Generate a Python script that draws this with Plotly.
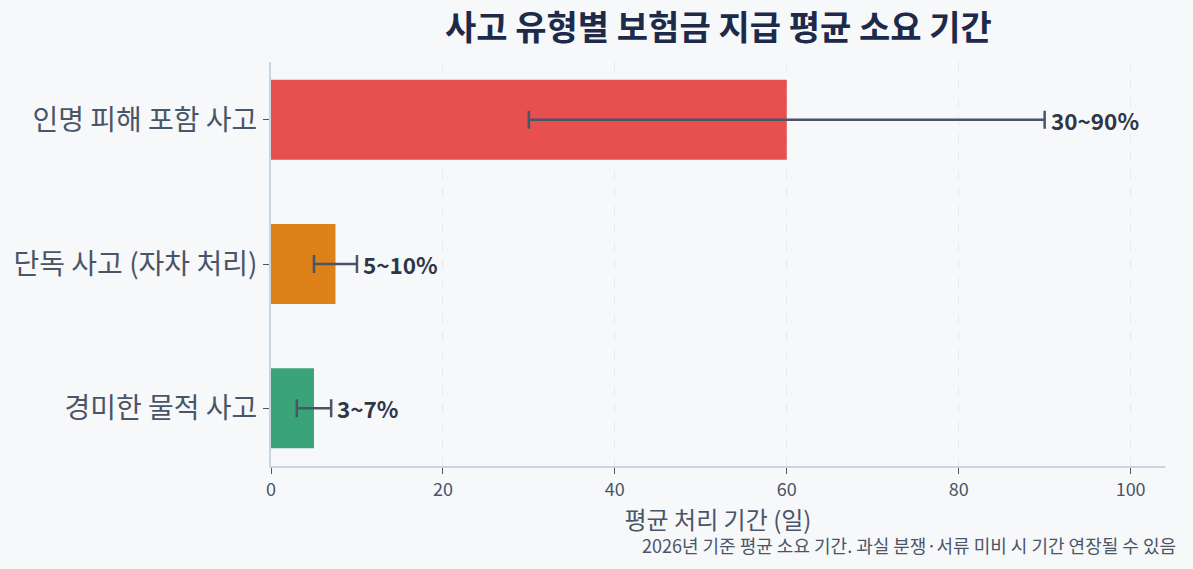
import plotly.graph_objects as go

categories = ["인명 피해 포함 사고", "단독 사고 (자차 처리)", "경미한 물적 사고"]
avg_days = [60, 7.5, 5]
low_days = [30, 5, 3]
high_days = [90, 10, 7]
range_labels = ["30~90%", "5~10%", "3~7%"]
colors = ["#e84f4f", "#dd8118", "#3aa478"]

err_plus = [h - a for h, a in zip(high_days, avg_days)]
err_minus = [a - l for a, l in zip(avg_days, low_days)]

FONT = "Noto Sans CJK KR"

fig = go.Figure()
fig.add_trace(go.Bar(
    y=categories, x=avg_days, orientation="h",
    marker=dict(color=colors, line=dict(width=0)),
    width=0.555,
    error_x=dict(type="data", symmetric=False, array=err_plus, arrayminus=err_minus,
                 color="#4a5568", thickness=2.5, width=9),
    hoverinfo="skip",
))
for c, h, lab in zip(categories, high_days, range_labels):
    fig.add_annotation(x=h, y=c, text=f"<b>{lab}</b>", showarrow=False,
                       xanchor="left", xshift=4,
                       font=dict(family=FONT, size=22.5, color="#2d3748"))

fig.add_annotation(xref="paper", yref="paper", x=1.015, y=-0.196, xanchor="right", yanchor="middle",
                   text="2026년 기준 평균 소요 기간. 과실 분쟁·서류 미비 시 기간 연장될 수 있음",
                   showarrow=False, font=dict(family=FONT, size=18, color="#4a5568"))

fig.add_annotation(xref="paper", yref="paper", x=0.5, y=1.0, xanchor="center", yanchor="bottom",
                   yshift=10, text="<b>사고 유형별 보험금 지급 평균 소요 기간</b>", showarrow=False,
                   font=dict(family=FONT, size=34, color="#1e2a4a"))

fig.update_layout(
    width=1193, height=569,
    paper_bgcolor="#f7f8fa", plot_bgcolor="#f7f8fa",
    margin=dict(l=271, r=28, t=62, b=103),
    showlegend=False,
    font=dict(family=FONT, color="#4a5568"),
    xaxis=dict(range=[0, 104], dtick=20, showgrid=True, gridcolor="#e6e9ef", griddash="dash",
               gridwidth=1, zeroline=False, showline=True, linecolor="#cbd5e0", linewidth=2,
               ticks="outside", tickcolor="#4a5568", ticklen=6,
               tickfont=dict(family=FONT, size=18, color="#4a5568"),
               title=dict(text="평균 처리 기간 (일)", font=dict(family=FONT, size=24, color="#4a5568"),
                          standoff=6)),
    yaxis=dict(range=[2.4, -0.4], showgrid=False, zeroline=False, showline=True,
               linecolor="#cbd5e0", linewidth=2, ticks="outside", tickcolor="#4a5568", ticklen=6,
               tickfont=dict(family=FONT, size=28, color="#4a5568")),
)

fig.write_html("out.html")
